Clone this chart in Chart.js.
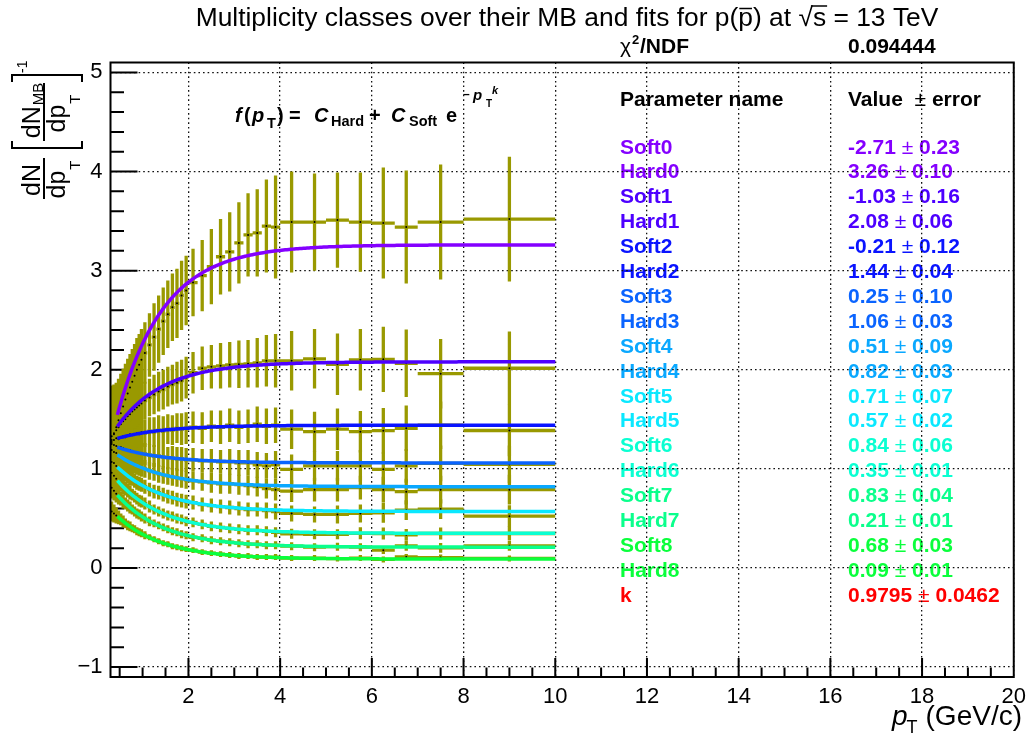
<!DOCTYPE html>
<html>
<head>
<meta charset="utf-8">
<script src="https://cdn.jsdelivr.net/npm/chart.js@4/dist/chart.umd.min.js"></script>
<style>
  html, body { margin: 0; padding: 0; background: #fff; }
  canvas { display: block; }
</style>
</head>
<body>
<canvas id="c" width="1033" height="738"></canvas>
<script>
// pT bin edges (GeV/c)
const binEdges = [0.30,0.35,0.40,0.45,0.50,0.55,0.60,0.65,0.70,0.75,0.80,0.85,0.90,0.95,1.00,
  1.10,1.20,1.30,1.40,1.50,1.60,1.70,1.80,1.90,2.00,
  2.20,2.40,2.60,2.80,3.00,3.20,3.40,3.60,3.80,4.00,
  4.50,5.00,5.50,6.00,6.50,7.00,8.00,10.00];

// class / MB ratios per bin and their errors
const ratio0 = [1.29,1.35,1.42,1.49,1.56,1.63,1.70,1.76,1.82,1.88,1.94,2.00,2.05,2.10,2.17,2.25,2.33,2.41,2.49,2.56,2.63,2.67,2.75,2.80,2.88,2.95,3.04,3.14,3.19,3.28,3.36,3.38,3.45,3.44,3.49,3.49,3.51,3.49,3.48,3.44,3.49,3.52];
const err0   = [0.55,0.50,0.45,0.42,0.40,0.38,0.36,0.35,0.34,0.33,0.32,0.32,0.31,0.31,0.31,0.32,0.34,0.34,0.34,0.34,0.34,0.35,0.35,0.35,0.34,0.36,0.38,0.38,0.40,0.41,0.42,0.44,0.47,0.52,0.51,0.49,0.48,0.50,0.56,0.57,0.58,0.63];
const ratio1 = [1.33,1.36,1.39,1.42,1.45,1.48,1.50,1.53,1.55,1.58,1.60,1.62,1.64,1.66,1.69,1.72,1.75,1.78,1.80,1.83,1.85,1.87,1.89,1.92,1.97,2.015,2.03,2.04,2.05,2.055,2.06,2.07,2.09,2.09,2.09,2.11,2.055,2.10,2.105,2.065,1.96,2.015];
const err1   = [0.32,0.29,0.27,0.25,0.24,0.23,0.22,0.21,0.20,0.20,0.19,0.19,0.19,0.19,0.19,0.19,0.20,0.20,0.20,0.20,0.20,0.21,0.21,0.21,0.21,0.22,0.22,0.23,0.23,0.24,0.24,0.25,0.26,0.27,0.30,0.30,0.31,0.31,0.33,0.34,0.35,0.37];
const ratio2 = [1.27,1.29,1.31,1.30,1.32,1.33,1.32,1.34,1.35,1.34,1.35,1.36,1.35,1.37,1.36,1.38,1.37,1.39,1.38,1.40,1.39,1.41,1.40,1.41,1.42,1.41,1.43,1.42,1.44,1.42,1.43,1.45,1.43,1.44,1.40,1.375,1.40,1.375,1.385,1.41,1.44,1.387];
const err2   = [0.24,0.22,0.20,0.19,0.18,0.17,0.16,0.16,0.15,0.15,0.15,0.14,0.14,0.14,0.14,0.14,0.15,0.15,0.15,0.15,0.15,0.15,0.16,0.16,0.16,0.16,0.16,0.17,0.17,0.17,0.17,0.18,0.18,0.18,0.20,0.20,0.21,0.21,0.23,0.23,0.24,0.26];
const ratio3 = [1.25,1.24,1.23,1.22,1.22,1.21,1.20,1.19,1.19,1.18,1.17,1.17,1.16,1.16,1.15,1.14,1.13,1.13,1.12,1.11,1.11,1.10,1.10,1.09,1.09,1.08,1.08,1.07,1.07,1.06,1.06,1.04,1.03,1.04,0.995,1.03,1.03,1.03,0.995,1.03,1.055,1.045];
const err3   = [0.20,0.18,0.16,0.15,0.14,0.13,0.13,0.12,0.12,0.12,0.11,0.11,0.11,0.11,0.11,0.11,0.11,0.11,0.11,0.11,0.12,0.12,0.12,0.12,0.12,0.12,0.12,0.12,0.13,0.13,0.13,0.13,0.13,0.14,0.15,0.15,0.15,0.16,0.17,0.17,0.18,0.19];
const ratio4 = [1.19,1.17,1.16,1.13,1.12,1.10,1.09,1.08,1.07,1.05,1.04,1.03,1.02,1.01,1.00,0.98,0.97,0.95,0.94,0.93,0.92,0.91,0.90,0.89,0.88,0.87,0.86,0.85,0.85,0.84,0.83,0.82,0.80,0.79,0.775,0.79,0.79,0.81,0.79,0.77,0.79,0.79];
const err4   = [0.17,0.15,0.14,0.13,0.12,0.11,0.11,0.10,0.10,0.10,0.09,0.09,0.09,0.09,0.09,0.09,0.09,0.09,0.09,0.09,0.09,0.09,0.09,0.09,0.09,0.09,0.10,0.10,0.10,0.10,0.10,0.10,0.10,0.11,0.11,0.12,0.12,0.12,0.13,0.13,0.14,0.15];
const ratio5 = [1.07,1.06,1.03,1.01,0.98,0.97,0.95,0.93,0.91,0.90,0.88,0.86,0.85,0.84,0.82,0.79,0.77,0.76,0.74,0.72,0.71,0.69,0.68,0.67,0.66,0.64,0.63,0.62,0.61,0.60,0.59,0.59,0.58,0.57,0.55,0.54,0.54,0.55,0.557,0.584,0.594,0.523];
const err5   = [0.14,0.12,0.11,0.10,0.09,0.09,0.08,0.08,0.08,0.07,0.07,0.07,0.07,0.07,0.07,0.07,0.07,0.07,0.07,0.07,0.07,0.07,0.07,0.07,0.07,0.07,0.07,0.07,0.07,0.07,0.07,0.07,0.08,0.08,0.08,0.08,0.09,0.09,0.10,0.10,0.10,0.11];
const ratio6 = [0.96,0.93,0.90,0.87,0.85,0.82,0.80,0.78,0.76,0.74,0.72,0.70,0.68,0.67,0.65,0.62,0.59,0.57,0.55,0.53,0.52,0.50,0.49,0.47,0.46,0.44,0.42,0.41,0.40,0.39,0.38,0.38,0.37,0.36,0.345,0.34,0.34,0.35,0.348,0.334,0.348,0.348];
const err6   = [0.12,0.11,0.10,0.09,0.08,0.08,0.07,0.07,0.07,0.06,0.06,0.06,0.06,0.06,0.06,0.06,0.05,0.05,0.05,0.05,0.05,0.05,0.05,0.05,0.05,0.05,0.05,0.05,0.05,0.05,0.05,0.05,0.05,0.05,0.05,0.05,0.05,0.06,0.06,0.06,0.06,0.07];
const ratio7 = [0.81,0.78,0.75,0.72,0.70,0.67,0.65,0.63,0.61,0.59,0.57,0.55,0.54,0.52,0.50,0.47,0.45,0.43,0.41,0.39,0.37,0.36,0.34,0.33,0.31,0.30,0.28,0.27,0.26,0.25,0.24,0.24,0.23,0.23,0.22,0.21,0.215,0.21,0.18,0.223,0.203,0.223];
const err7   = [0.11,0.10,0.09,0.08,0.07,0.07,0.06,0.06,0.06,0.05,0.05,0.05,0.05,0.05,0.05,0.05,0.04,0.04,0.04,0.04,0.04,0.04,0.04,0.04,0.04,0.04,0.04,0.04,0.04,0.04,0.04,0.04,0.04,0.04,0.04,0.04,0.04,0.04,0.04,0.05,0.05,0.05];
const ratio8 = [0.57,0.55,0.53,0.51,0.49,0.47,0.45,0.43,0.42,0.40,0.39,0.37,0.36,0.35,0.33,0.31,0.29,0.27,0.25,0.24,0.22,0.21,0.20,0.19,0.18,0.16,0.15,0.14,0.13,0.12,0.12,0.11,0.11,0.11,0.10,0.10,0.095,0.10,0.086,0.112,0.105,0.096];
const err8   = [0.10,0.09,0.08,0.07,0.06,0.06,0.05,0.05,0.05,0.04,0.04,0.04,0.04,0.04,0.04,0.03,0.03,0.03,0.03,0.03,0.03,0.03,0.03,0.03,0.03,0.03,0.03,0.03,0.03,0.03,0.03,0.03,0.03,0.03,0.03,0.03,0.03,0.03,0.03,0.03,0.03,0.03];

// fit parameters: f(pT) = C_Hard + C_Soft * exp(-pT^k)
const softPar = [-2.71, -1.03, -0.21, 0.25, 0.51, 0.71, 0.84, 0.83, 0.68];
const softErr = [ 0.23,  0.16,  0.12, 0.10, 0.09, 0.07, 0.06, 0.04, 0.03];
const hardPar = [ 3.26,  2.08,  1.44, 1.06, 0.82, 0.57, 0.35, 0.21, 0.09];
const hardErr = [ 0.10,  0.06,  0.04, 0.03, 0.03, 0.02, 0.01, 0.01, 0.01];
const kPar = 0.9795, kErr = 0.0462;
const chi2ndf = '0.094444';
const fitRange = [0.45, 10.0];

// axis tick labels
const xTickValues = [2, 4, 6, 8, 10, 12, 14, 16, 18, 20];
const yTickValues = [-1, 0, 1, 2, 3, 4, 5];

const classColors = ['#8400ff', '#4d00ff', '#0a14ff', '#0a64ff', '#0aa8ff', '#0ae8ff', '#0affd2', '#0aff8c', '#0aff3c'];
const dataColor = '#999900';
const FONT = '"Liberation Sans", Arial, Helvetica, sans-serif';

const ratios = [ratio0, ratio1, ratio2, ratio3, ratio4, ratio5, ratio6, ratio7, ratio8];
const errors = [err0, err1, err2, err3, err4, err5, err6, err7, err8];

// error-bar segments (vertical error + horizontal bin width), separated by gaps
function errorBarPoints(vals, errs) {
  const pts = [];
  for (let i = 0; i < vals.length; i++) {
    const lo = binEdges[i], hi = binEdges[i + 1], xc = (lo + hi) / 2;
    pts.push({ x: xc, y: vals[i] - errs[i] }, { x: xc, y: vals[i] + errs[i] }, { x: xc, y: null });
    pts.push({ x: lo, y: vals[i] }, { x: hi, y: vals[i] }, { x: hi, y: null });
  }
  return pts;
}
function centerPoints(vals) {
  return vals.map((v, i) => ({ x: (binEdges[i] + binEdges[i + 1]) / 2, y: v }));
}
function fitPoints(c) {
  const pts = [];
  const n = 240;
  for (let j = 0; j <= n; j++) {
    const p = fitRange[0] + (fitRange[1] - fitRange[0]) * j / n;
    pts.push({ x: p, y: hardPar[c] + softPar[c] * Math.exp(-Math.pow(p, kPar)) });
  }
  return pts;
}

const datasets = [];
for (let c = 0; c < 9; c++) {
  datasets.push({
    type: 'line', data: fitPoints(c), borderColor: classColors[c], borderWidth: 3.5,
    pointRadius: 0, tension: 0, fill: false, order: 0
  });
}
for (let c = 0; c < 9; c++) {
  datasets.push({
    type: 'line', data: centerPoints(ratios[c]), showLine: false, pointRadius: 1,
    pointBackgroundColor: '#000', pointBorderWidth: 0, order: 1
  });
  datasets.push({
    type: 'line', data: errorBarPoints(ratios[c], errors[c]), borderColor: dataColor,
    borderWidth: 3.3, borderCapStyle: 'butt', pointRadius: 0, spanGaps: false,
    tension: 0, fill: false, order: 2
  });
}

// ---------- decorations: title, axis titles, ticks, frame, fit box ----------
function overline(ctx, x0, x1, y) {
  ctx.beginPath(); ctx.moveTo(x0, y); ctx.lineTo(x1, y); ctx.stroke();
}

function drawTitle(ctx) {
  ctx.save();
  ctx.fillStyle = '#000'; ctx.strokeStyle = '#000'; ctx.lineWidth = 1.5;
  ctx.font = '26.4px ' + FONT;
  ctx.textBaseline = 'alphabetic'; ctx.textAlign = 'left';
  const parts = ['Multiplicity classes over their MB and fits for p(', 'p', ') at ', '\u221A', 's', ' = 13 TeV'];
  const w = parts.map(p => ctx.measureText(p).width);
  const total = w.reduce((a, b) => a + b, 0);
  let x = 567 - total / 2;
  const base = 26;
  parts.forEach((p, i) => {
    ctx.fillText(p, x, base);
    if (i === 1) overline(ctx, x + 1, x + w[i] - 1, base - 17.5);
    if (i === 3) overline(ctx, x + w[i] - 2, x + w[i] + w[i + 1] + 1, base - 20);
    x += w[i];
  });
  ctx.restore();
}

function drawYTitle(ctx) {
  ctx.save();
  ctx.fillStyle = '#000'; ctx.strokeStyle = '#000';
  const big = '25px ' + FONT, sub = '15px ' + FONT, sup = '14px ' + FONT;
  // rotated text helper: sx = baseline x, sy = start y (text runs upward)
  function rtext(txt, font, sy, sx) {
    ctx.save();
    ctx.font = font; ctx.textAlign = 'left'; ctx.textBaseline = 'alphabetic';
    ctx.translate(sx, sy); ctx.rotate(-Math.PI / 2);
    ctx.fillText(txt, 0, 0);
    ctx.restore();
  }
  function tw(txt, font) { ctx.font = font; return ctx.measureText(txt).width; }

  // lower fraction  dN / dp_T
  let wn = tw('dN', big);
  rtext('dN', big, 180 + wn / 2, 40);
  let wd = tw('dp', big), wt = tw('T', sub);
  let s0 = 180 + (wd + wt) / 2;
  rtext('dp', big, s0, 65);
  rtext('T', sub, s0 - wd - 1, 80);
  ctx.lineWidth = 2;
  ctx.beginPath(); ctx.moveTo(44, 158); ctx.lineTo(44, 199); ctx.stroke();

  // brackets around the MB fraction
  ctx.lineWidth = 2;
  ctx.beginPath();
  ctx.moveTo(12, 141); ctx.lineTo(12, 148); ctx.lineTo(82, 148); ctx.lineTo(82, 141);
  ctx.stroke();
  ctx.beginPath();
  ctx.moveTo(12, 82); ctx.lineTo(12, 75); ctx.lineTo(82, 75); ctx.lineTo(82, 82);
  ctx.stroke();

  // upper fraction  dN_MB / dp_T
  wn = tw('dN', big); const wmb = tw('MB', sub);
  s0 = 111 + (wn + wmb) / 2;
  rtext('dN', big, s0, 40);
  rtext('MB', sub, s0 - wn - 1, 43);
  wd = tw('dp', big); wt = tw('T', sub);
  s0 = 114 + (wd + wt) / 2;
  rtext('dp', big, s0, 65);
  rtext('T', sub, s0 - wd - 1, 80);
  ctx.beginPath(); ctx.moveTo(44, 83); ctx.lineTo(44, 141); ctx.stroke();

  // exponent -1
  rtext('-1', sup, 73, 27);
  ctx.restore();
}

function drawXTitle(ctx) {
  ctx.save();
  ctx.fillStyle = '#000';
  ctx.textBaseline = 'alphabetic'; ctx.textAlign = 'left';
  const right = 1022, base = 725;
  ctx.font = '28px ' + FONT;
  const wU = ctx.measureText('(GeV/c)').width;
  const xU = right - wU;
  ctx.fillText('(GeV/c)', xU, base);
  ctx.font = '18px ' + FONT;
  const wT = ctx.measureText('T').width;
  const xT = xU - 8 - wT;
  ctx.fillText('T', xT, base + 8);
  ctx.font = 'italic 28px ' + FONT;
  const wp = ctx.measureText('p').width;
  ctx.fillText('p', xT - wp + 1, base);
  ctx.restore();
}

function drawFormula(ctx) {
  ctx.save();
  ctx.fillStyle = '#000'; ctx.textBaseline = 'alphabetic'; ctx.textAlign = 'left';
  const bi = 'italic bold 20px ' + FONT, b = 'bold 20px ' + FONT, bs = 'bold 14.5px ' + FONT;
  const base = 122;
  const put = (t, f, x, y) => { ctx.font = f; ctx.fillText(t, x, y); };
  put('f', bi, 235, base);
  put('(', b, 244, base);
  put('p', bi, 252, base);
  put('T', bs, 267, base + 6);
  put(')', b, 277, base);
  put('=', b, 289, base);
  put('C', bi, 314, base);
  put('Hard', bs, 331, base + 4);
  put('+', b, 369, base);
  put('C', bi, 391, base);
  put('Soft', bs, 409, base + 4);
  put('e', b, 446, base);
  put('\u2013', 'bold 12px ' + FONT, 463, 98);
  put('p', 'italic bold 15px ' + FONT, 473, 100);
  put('T', 'bold 10px ' + FONT, 486, 107);
  put('k', 'italic bold 11px ' + FONT, 492, 94);
  ctx.restore();
}

function drawFitBox(ctx) {
  ctx.save();
  ctx.textBaseline = 'alphabetic'; ctx.textAlign = 'left';
  const bold = 'bold 21px ' + FONT, reg = '21px ' + FONT;
  const xName = 620, xVal = 848;
  // chi2 / NDF line
  ctx.fillStyle = '#000';
  ctx.font = reg; ctx.fillText('\u03C7', xName, 53);
  let w = ctx.measureText('\u03C7').width;
  ctx.font = 'bold 13px ' + FONT; ctx.fillText('2', xName + w + 1, 44);
  ctx.font = bold; ctx.fillText('/NDF', xName + w + 9, 53);
  ctx.fillText(chi2ndf, xVal, 53);
  // header
  ctx.fillText('Parameter name', xName, 106);
  ctx.font = bold; ctx.fillText('Value', xVal, 106);
  let wv = ctx.measureText('Value  ').width;
  ctx.font = reg; ctx.fillText('\u00B1', xVal + wv, 106);
  let wpm = ctx.measureText('\u00B1').width;
  ctx.font = bold; ctx.fillText(' error', xVal + wv + wpm, 106);

  const rows = [];
  for (let c = 0; c < 9; c++) {
    rows.push(['Soft' + c, softPar[c].toFixed(2), softErr[c].toFixed(2), classColors[c]]);
    rows.push(['Hard' + c, hardPar[c].toFixed(2), hardErr[c].toFixed(2), classColors[c]]);
  }
  rows.push(['k', kPar.toFixed(4), kErr.toFixed(4), '#ff0000']);
  rows.forEach((r, i) => {
    const y = 153.5 + i * 24.9;
    ctx.fillStyle = r[3];
    ctx.font = bold; ctx.fillText(r[0], xName, y);
    const a = r[1] + ' ';
    ctx.fillText(a, xVal, y);
    const wa = ctx.measureText(a).width;
    ctx.font = reg; ctx.fillText('\u00B1', xVal + wa, y);
    const wp = ctx.measureText('\u00B1').width;
    ctx.font = bold; ctx.fillText(' ' + r[2], xVal + wa + wp, y);
  });
  ctx.restore();
}

function drawTicks(chart) {
  const ctx = chart.ctx, xs = chart.scales.x, ys = chart.scales.y, ca = chart.chartArea;
  ctx.save();
  ctx.strokeStyle = '#000'; ctx.lineWidth = 2;
  ctx.beginPath();
  for (let v = 0.5; v < 20; v += 0.5) {
    const px = xs.getPixelForValue(v);
    const major = Math.abs(v / 2 - Math.round(v / 2)) < 1e-6;
    ctx.moveTo(px, ca.bottom); ctx.lineTo(px, ca.bottom - (major ? 19 : 9.5));
  }
  for (let k = -5; k <= 25; k++) {
    const v = k / 5;
    const py = ys.getPixelForValue(v);
    const major = k % 5 === 0;
    ctx.moveTo(ca.left, py); ctx.lineTo(ca.left + (major ? 27 : 13.5), py);
  }
  ctx.stroke();
  ctx.restore();
}

function drawFrame(chart) {
  const ctx = chart.ctx, ca = chart.chartArea;
  ctx.save();
  ctx.strokeStyle = '#000'; ctx.lineWidth = 2;
  ctx.strokeRect(ca.left, ca.top, ca.right - ca.left, ca.bottom - ca.top);
  ctx.restore();
}

const decor = {
  id: 'decor',
  beforeDraw(chart) {
    const ctx = chart.ctx;
    ctx.save(); ctx.fillStyle = '#fff'; ctx.fillRect(0, 0, chart.width, chart.height); ctx.restore();
    drawFitBox(ctx);
    drawFormula(ctx);
  },
  beforeDatasetsDraw(chart) { drawTicks(chart); },
  afterDraw(chart) {
    drawFrame(chart);
    drawTitle(chart.ctx);
    drawYTitle(chart.ctx);
    drawXTitle(chart.ctx);
  }
};

const gridOpts = { color: '#111', lineWidth: 1.3, drawTicks: false, borderDash: [1.6, 3] };
const borderOpts = { display: false, dash: [1.6, 3] };

new Chart(document.getElementById('c').getContext('2d'), {
  type: 'line',
  data: { datasets },
  options: {
    responsive: false, animation: false, devicePixelRatio: 1,
    events: [],
    layout: { padding: { left: 0, right: 16, top: 62.5, bottom: 0 } },
    plugins: { legend: { display: false }, tooltip: { enabled: false }, title: { display: false } },
    scales: {
      x: {
        type: 'linear', min: 0.3, max: 20,
        afterBuildTicks: s => { s.ticks = xTickValues.map(v => ({ value: v })); },
        afterFit: s => { s.height = 61; },
        grid: gridOpts, border: borderOpts,
        ticks: { font: { family: FONT, size: 22 }, color: '#000', padding: 7, maxRotation: 0, autoSkip: false,
                 callback: v => String(v) }
      },
      y: {
        type: 'linear', min: -1.1, max: 5.1,
        afterBuildTicks: s => { s.ticks = yTickValues.map(v => ({ value: v })); },
        afterFit: s => { s.width = 110.5; },
        grid: gridOpts, border: borderOpts,
        ticks: { font: { family: FONT, size: 22 }, color: '#000', padding: 8, autoSkip: false,
                 callback: v => (v < 0 ? '\u2212' + Math.abs(v) : String(v)) }
      }
    }
  },
  plugins: [decor]
});
</script>
</body>
</html>
